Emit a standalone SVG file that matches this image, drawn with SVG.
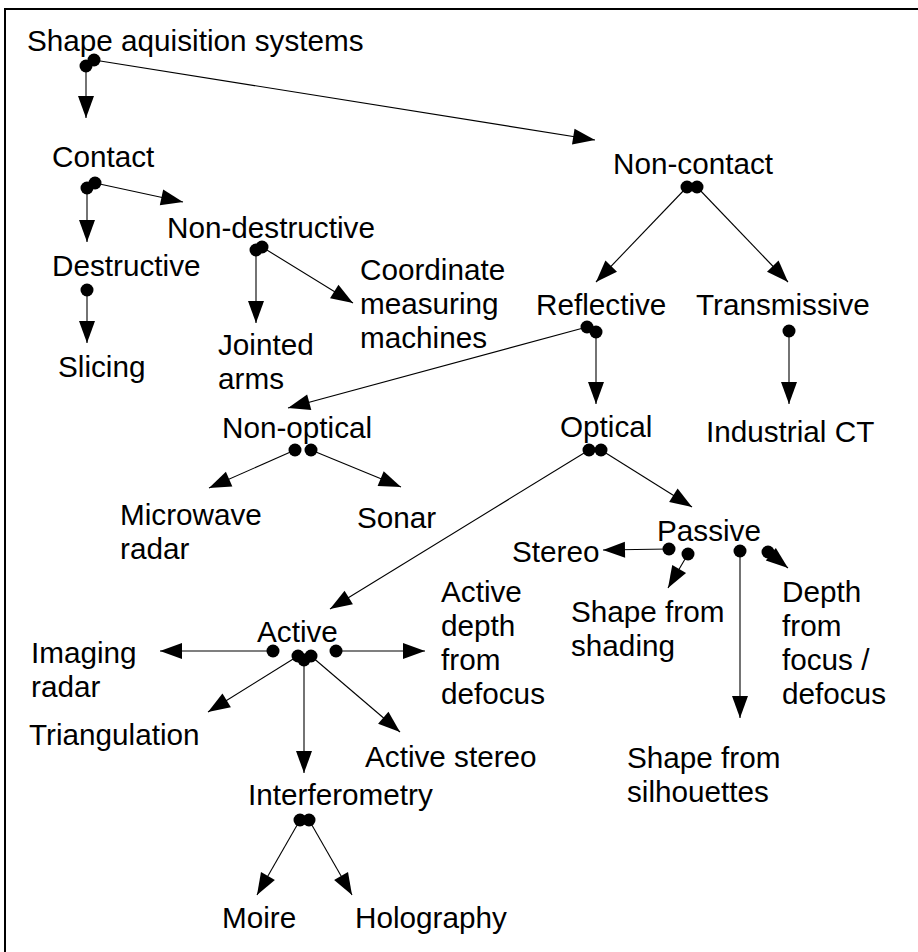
<svg xmlns="http://www.w3.org/2000/svg" width="918" height="952" viewBox="0 0 918 952">
<style>
text{font-family:"Liberation Sans",Arial,sans-serif;font-size:29.7px;fill:#000}
.c line{stroke:#000;stroke-width:1.1;marker-start:url(#dot);marker-end:url(#arr)}
</style>
<defs>
<marker id="arr" markerUnits="userSpaceOnUse" markerWidth="22" markerHeight="16" refX="22" refY="8" orient="auto" overflow="visible"><path d="M0,0 L22,8 L0,16 z" fill="#000"/></marker>
<marker id="dot" markerUnits="userSpaceOnUse" markerWidth="14" markerHeight="14" refX="7" refY="7" overflow="visible"><circle cx="7" cy="7" r="6.5" fill="#000"/></marker>
</defs>
<rect width="918" height="952" fill="#fff"/>
<path d="M5,952 V9 H918" fill="none" stroke="#000" stroke-width="2"/>
<g class="c" id="connectors">
<line x1="86" y1="66" x2="86" y2="118"/>
<line x1="94" y1="60" x2="595" y2="140"/>
<line x1="87" y1="188" x2="87" y2="242"/>
<line x1="95" y1="183" x2="183" y2="202"/>
<line x1="87" y1="290" x2="87" y2="343"/>
<line x1="256" y1="250" x2="256" y2="323"/>
<line x1="262" y1="247" x2="353" y2="303"/>
<line x1="687" y1="187" x2="596" y2="282"/>
<line x1="697" y1="187" x2="788" y2="282"/>
<line x1="587" y1="327" x2="288" y2="408"/>
<line x1="596" y1="332" x2="596" y2="404"/>
<line x1="789" y1="331" x2="789" y2="404"/>
<line x1="295" y1="450" x2="209" y2="488"/>
<line x1="311" y1="450" x2="401" y2="487"/>
<line x1="589" y1="450" x2="330" y2="609"/>
<line x1="601" y1="450" x2="692" y2="507"/>
<line x1="669" y1="549" x2="603" y2="550"/>
<line x1="688" y1="554" x2="668" y2="588"/>
<line x1="740" y1="551" x2="740" y2="718"/>
<line x1="768" y1="552" x2="788" y2="568"/>
<line x1="273" y1="651" x2="160" y2="651"/>
<line x1="336" y1="651" x2="425" y2="651"/>
<line x1="298" y1="656" x2="208" y2="712"/>
<line x1="304" y1="660" x2="304" y2="773"/>
<line x1="311" y1="656" x2="400" y2="732"/>
<line x1="300" y1="820" x2="257" y2="895"/>
<line x1="309" y1="820" x2="352" y2="895"/>
</g>
<g id="n-shape"><text x="27" y="51">Shape aquisition systems</text></g>
<g id="n-contact"><text x="52" y="167">Contact</text></g>
<g id="n-noncontact"><text x="613" y="174">Non-contact</text></g>
<g id="n-nondestructive"><text x="167" y="238">Non-destructive</text></g>
<g id="n-destructive"><text x="52" y="276">Destructive</text></g>
<g id="n-slicing"><text x="58" y="377">Slicing</text></g>
<g id="n-jointed"><text x="218" y="355">Jointed</text><text x="218" y="389">arms</text></g>
<g id="n-cmm"><text x="360" y="280">Coordinate</text><text x="360" y="314">measuring</text><text x="360" y="348">machines</text></g>
<g id="n-reflective"><text x="536" y="315">Reflective</text></g>
<g id="n-transmissive"><text x="696" y="315">Transmissive</text></g>
<g id="n-nonoptical"><text x="222" y="438">Non-optical</text></g>
<g id="n-optical"><text x="560" y="437">Optical</text></g>
<g id="n-industrialct"><text x="706" y="442">Industrial CT</text></g>
<g id="n-microwave"><text x="120" y="525">Microwave</text><text x="120" y="559">radar</text></g>
<g id="n-sonar"><text x="357" y="528">Sonar</text></g>
<g id="n-passive"><text x="657" y="541">Passive</text></g>
<g id="n-stereo"><text x="512" y="562">Stereo</text></g>
<g id="n-shading"><text x="571" y="622">Shape from</text><text x="571" y="656">shading</text></g>
<g id="n-depthfocus"><text x="782" y="602">Depth</text><text x="782" y="636">from</text><text x="782" y="670">focus /</text><text x="782" y="704">defocus</text></g>
<g id="n-active"><text x="257" y="642">Active</text></g>
<g id="n-activedepth"><text x="441" y="602">Active</text><text x="441" y="636">depth</text><text x="441" y="670">from</text><text x="441" y="704">defocus</text></g>
<g id="n-imaging"><text x="31" y="663">Imaging</text><text x="31" y="697">radar</text></g>
<g id="n-triangulation"><text x="29" y="745">Triangulation</text></g>
<g id="n-activestereo"><text x="365" y="767">Active stereo</text></g>
<g id="n-silhouettes"><text x="627" y="768">Shape from</text><text x="627" y="802">silhouettes</text></g>
<g id="n-interferometry"><text x="248" y="805">Interferometry</text></g>
<g id="n-moire"><text x="222" y="928">Moire</text></g>
<g id="n-holography"><text x="355" y="928">Holography</text></g>
</svg>
